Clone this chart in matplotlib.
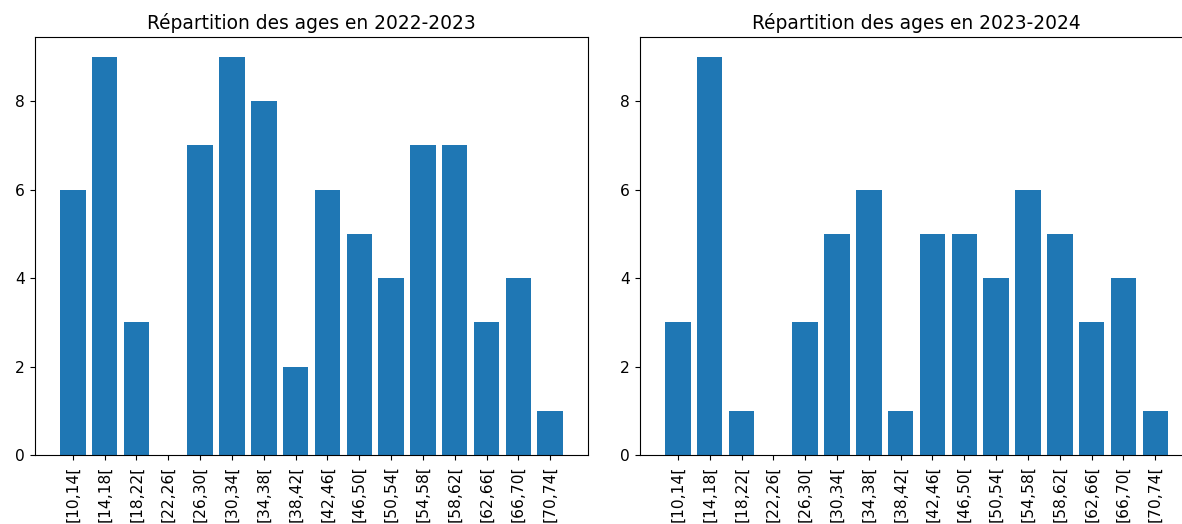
import matplotlib
matplotlib.use("Agg")
import matplotlib.pyplot as plt

tranches = ["[10,14[", "[14,18[", "[18,22[", "[22,26[", "[26,30[", "[30,34[",
            "[34,38[", "[38,42[", "[42,46[", "[46,50[", "[50,54[", "[54,58[",
            "[58,62[", "[62,66[", "[66,70[", "[70,74["]
effectifs_2022 = [6, 9, 3, 0, 7, 9, 8, 2, 6, 5, 4, 7, 7, 3, 4, 1]
effectifs_2023 = [3, 9, 1, 0, 3, 5, 6, 1, 5, 5, 4, 6, 5, 3, 4, 1]

plt.rcParams['font.size'] = 11.2
plt.rcParams['xtick.major.size'] = 3.9
plt.rcParams['ytick.major.size'] = 3.9

fig = plt.figure(figsize=(11.82, 5.24), dpi=100)
ax1 = fig.add_axes([0.0296, 0.1317, 0.4679, 0.7977])
ax2 = fig.add_axes([0.5415, 0.1317, 0.4679, 0.7977])

for ax, vals, annee in [(ax1, effectifs_2022, "2022-2023"),
                        (ax2, effectifs_2023, "2023-2024")]:
    ax.bar(tranches, vals)
    ax.set_title("Répartition des ages en " + annee)
    ax.tick_params(axis='x', labelrotation=90)
    ax.set_yticks([0, 2, 4, 6, 8])

# le cadre de droite sort de l'image dans la capture
ax2.spines['right'].set_visible(False)

fig.savefig("out.png", dpi=100)
